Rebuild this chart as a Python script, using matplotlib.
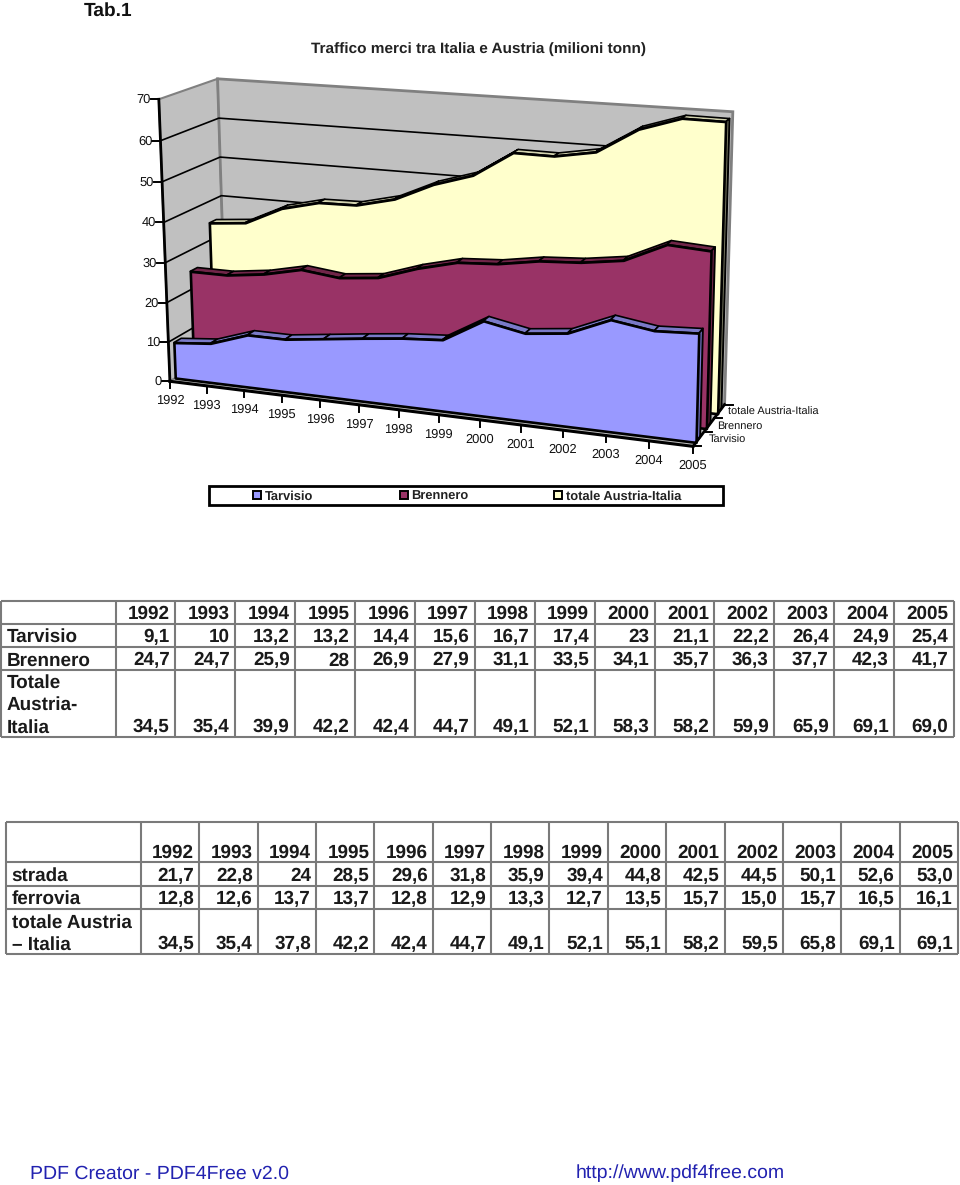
import numpy as np
import matplotlib
matplotlib.use("Agg")
import matplotlib.pyplot as plt
from matplotlib.transforms import Transform
from matplotlib.patches import Rectangle

plt.rcParams['font.family'] = ['Liberation Sans', 'DejaVu Sans']
plt.rcParams['text.hinting'] = 'none'
plt.rcParams['text.hinting_factor'] = 8

years = [1992,1993,1994,1995,1996,1997,1998,1999,2000,2001,2002,2003,2004,2005]
tarvisio = [9.1,10,13.2,13.2,14.4,15.6,16.7,17.4,23,21.1,22.2,26.4,24.9,25.4]
brennero = [24.7,24.7,25.9,28,26.9,27.9,31.1,33.5,34.1,35.7,36.3,37.7,42.3,41.7]
totale = [34.5,35.4,39.9,42.2,42.4,44.7,49.1,52.1,58.3,58.2,59.9,65.9,69.1,69.0]

t1_tarvisio = ["9,1","10","13,2","13,2","14,4","15,6","16,7","17,4","23","21,1","22,2","26,4","24,9","25,4"]
t1_brennero = ["24,7","24,7","25,9","28","26,9","27,9","31,1","33,5","34,1","35,7","36,3","37,7","42,3","41,7"]
t1_totale = ["34,5","35,4","39,9","42,2","42,4","44,7","49,1","52,1","58,3","58,2","59,9","65,9","69,1","69,0"]
t2_strada = ["21,7","22,8","24","28,5","29,6","31,8","35,9","39,4","44,8","42,5","44,5","50,1","52,6","53,0"]
t2_ferrovia = ["12,8","12,6","13,7","13,7","12,8","12,9","13,3","12,7","13,5","15,7","15,0","15,7","16,5","16,1"]
t2_totale = ["34,5","35,4","37,8","42,2","42,4","44,7","49,1","52,1","55,1","58,2","59,5","65,8","69,1","69,1"]

series_names = ["Tarvisio", "Brennero", "totale Austria-Italia"]
series_values = [tarvisio, brennero, totale]
face_colors = ["#9999ff", "#993366", "#ffffcc"]
top_colors = ["#7a7ac8", "#702548", "#d4d4b0"]
side_colors = ["#7777cc", "#702548", "#808066"]
series_depth = [0.09, 0.41, 0.77]
slab = 0.125
y_ticks = [0,10,20,30,40,50,60,70]
depth_ticks = [0, 1/3, 2/3, 1]

# camera calibration: (category index, value, depth) -> page pixel, with a weight per point
cal_3d = np.array([[0,0,0],[13,0,0],[0,70,0],[0,0,1],[13,0,1],[0,70,1],[13,70,1],[7,0,0]], float)
cal_2d = np.array([[170,381],[693,446.5],[159,99],[226,350],[725,403],[216,80],[733,113],[438,415]], float)
cal_w = [3, 6, 3, 1, 2, 1, 1, 1]
S = np.array([1/13, 1/70, 1.0])
rows = []
for p, q, w in zip(cal_3d * S, cal_2d, cal_w):
    h = np.r_[p, 1]
    rows.append(w * np.r_[h, np.zeros(4), -q[0]*h])
    rows.append(w * np.r_[np.zeros(4), h, -q[1]*h])
P = np.linalg.svd(np.array(rows))[2][-1].reshape(3, 4)


class Oblique(Transform):
    """Maps (category index, value) on a plane of fixed depth to page pixels."""
    input_dims = 2
    output_dims = 2
    is_separable = False
    has_inverse = False

    def __init__(self, plane_depth):
        super().__init__()
        self.plane_depth = plane_depth

    def transform_non_affine(self, xy):
        xy = np.asarray(xy, float)
        h = np.c_[xy[:, 0]/13, xy[:, 1]/70, np.full(len(xy), self.plane_depth), np.ones(len(xy))]
        o = h @ P.T
        return o[:, :2] / o[:, 2:]


fig = plt.figure(figsize=(9.6, 11.85), dpi=100, facecolor="white")
ax = fig.add_axes([0, 0, 1, 1])
ax.set_xlim(0, 960)
ax.set_ylim(1185, 0)
ax.axis("off")


def px(i, v, d):
    return Oblique(d).transform_non_affine(np.array([[i, v]], float))[0]


def plane(d):
    return Oblique(d) + ax.transData


GRID = "#808080"
WALL = "#c0c0c0"
# walls and floor
ax.fill(*zip(px(0,0,0), px(0,70,0), px(0,70,1), px(0,0,1)), fc=WALL, ec=GRID, lw=1.5, zorder=1)
ax.fill(*zip(px(0,0,1), px(0,70,1), px(13,70,1), px(13,0,1)), fc=WALL, ec=GRID, lw=2, zorder=1)
ax.fill(*zip(px(0,0,0), px(13,0,0), px(13,0,1), px(0,0,1)), fc=WALL, ec=GRID, lw=1, zorder=1)
for v in y_ticks[1:-1]:
    a, b, c = px(0,v,0), px(0,v,1), px(12.5,v,1)
    ax.plot([a[0], b[0], c[0]], [a[1], b[1], c[1]], color="black", lw=1.2, zorder=2)

# series, back to front
z = 3
for k in (2, 1, 0):
    vals = series_values[k]
    d0, d1 = series_depth[k], series_depth[k] + slab
    # end face
    ax.fill(*zip(px(13,0,d0), px(13,vals[-1],d0), px(13,vals[-1],d1), px(13,0,d1)),
            fc=side_colors[k], ec="black", lw=1.4, zorder=z, joinstyle="round")
    # top facets
    for i in range(13):
        ax.fill(*zip(px(i,vals[i],d0), px(i+1,vals[i+1],d0), px(i+1,vals[i+1],d1), px(i,vals[i],d1)),
                fc=top_colors[k], ec="black", lw=1.2, zorder=z, joinstyle="round")
    # front face
    ax.fill_between(range(14), 0, vals, transform=plane(d0), fc=face_colors[k],
                    ec="black", lw=1.9, zorder=z+1, joinstyle="round")
    z += 2

# axes lines
a, b = px(0,0,0), px(0,70,0)
ax.plot([a[0], b[0]], [a[1], b[1]], color="black", lw=2.0, zorder=12)
a, b = px(0,0,0), px(13,0,0)
ax.plot([a[0], b[0]], [a[1], b[1]], color="black", lw=2.2, zorder=12)
a, b = px(13,0,0), px(13,0,1)
ax.plot([a[0], b[0]], [a[1], b[1]], color="black", lw=2.0, zorder=12)

lab_kw = dict(fontsize=9.3, color="#111111", zorder=13)
for v in y_ticks:
    p = px(0, v, 0)
    ax.plot([p[0]-8, p[0]], [p[1], p[1]], color="black", lw=1.4, zorder=12)
    ax.text(p[0]-8, p[1]+0.5, str(v), ha="right", va="center", **lab_kw)
for i, y in enumerate(years):
    p = px(i, 0, 0)
    ax.plot([p[0], p[0]], [p[1], p[1]+7], color="black", lw=1.4, zorder=12)
    ax.text(p[0], p[1]+19.5, str(y), ha="center", va="center", **lab_kw)
for d in depth_ticks:
    p = px(13, 0, d)
    ax.plot([p[0], p[0]+8], [p[1], p[1]], color="black", lw=1.4, zorder=12)
for k, name in enumerate(series_names):
    p = px(13, 0, (depth_ticks[k] + depth_ticks[k+1]) / 2)
    ax.text(p[0]+8+(2 if k == 0 else 0), p[1]+1, name, ha="left", va="center", fontsize=7.95, color="#111111", zorder=13)

# legend
ax.add_patch(Rectangle((209, 486), 514, 19, fc="white", ec="black", lw=2, zorder=5))
leg_sq = [257, 404, 558]
leg_tx = [265, 411, 566]
for k, name in enumerate(series_names):
    ax.add_patch(Rectangle((leg_sq[k]-4, 491), 8, 8, fc=face_colors[k], ec="black", lw=1.4, zorder=6))
    ax.text(leg_tx[k], 500, name, ha="left", va="baseline", fontsize=9.3, fontweight="bold", color="#222222", zorder=6)

ax.text(84, 16, "Tab.1", ha="left", va="baseline", fontsize=13.8, fontweight="bold", color="#111111")
ax.text(478.5, 52.5, "Traffico merci tra Italia e Austria (milioni tonn)", ha="center", va="baseline",
        fontsize=11.1, fontweight="bold", color="#222222")

TXT = dict(fontsize=13.6, fontweight="bold", color="#1a1a1a", va="baseline")


def table(col_x, row_y, header_y, rows, label_x, pad, line="#7a7a7a"):
    ax.vlines(col_x, row_y[0], row_y[-1], color=line, lw=1.5, zorder=2)
    ax.hlines(row_y, col_x[0], col_x[-1], color=line, lw=1.5, zorder=2)
    for j, y in enumerate(years):
        ax.text(col_x[j+2]-pad, header_y, str(y), ha="right", **TXT)
    for labels, vals, yc in rows:
        for text, ty in labels:
            ax.text(label_x, ty, text, ha="left", **TXT)
        for j, s in enumerate(vals):
            ax.text(col_x[j+2]-pad, yc, s, ha="right", **TXT)


t1_cols = [0.7, 115.7] + [175.3 + 59.9*n for n in range(14)]
t1_rows = [600.7, 623.7, 646.7, 670, 737.3]
table(t1_cols, t1_rows, 618.5,
      [([("Tarvisio", 642)], t1_tarvisio, 642),
       ([("Brennero", 665.5)], t1_brennero, 665.5),
       ([("Totale", 688), ("Austria-", 710), ("Italia", 732.5)], t1_totale, 732.5)],
      6.5, 5.5)

t2_cols = [5.7, 141] + [199.3 + 58.36*n for n in range(14)]
t2_rows = [822.3, 862.3, 886, 909.3, 954.3]
table(t2_cols, t2_rows, 857.5,
      [([("strada", 881)], t2_strada, 881),
       ([("ferrovia", 904)], t2_ferrovia, 904),
       ([("totale Austria", 927.5), ("– Italia", 949.5)], t2_totale, 949.5)],
      11.5, 5)

BLUE = "#2222b0"
ax.text(30, 1178.5, "PDF Creator - PDF4Free v2.0", ha="left", va="baseline", fontsize=14, color=BLUE)
ax.text(576, 1178.5, "http://www.pdf4free.com", ha="left", va="baseline", fontsize=14, color=BLUE)

fig.savefig("out.png", dpi=100, facecolor="white")
